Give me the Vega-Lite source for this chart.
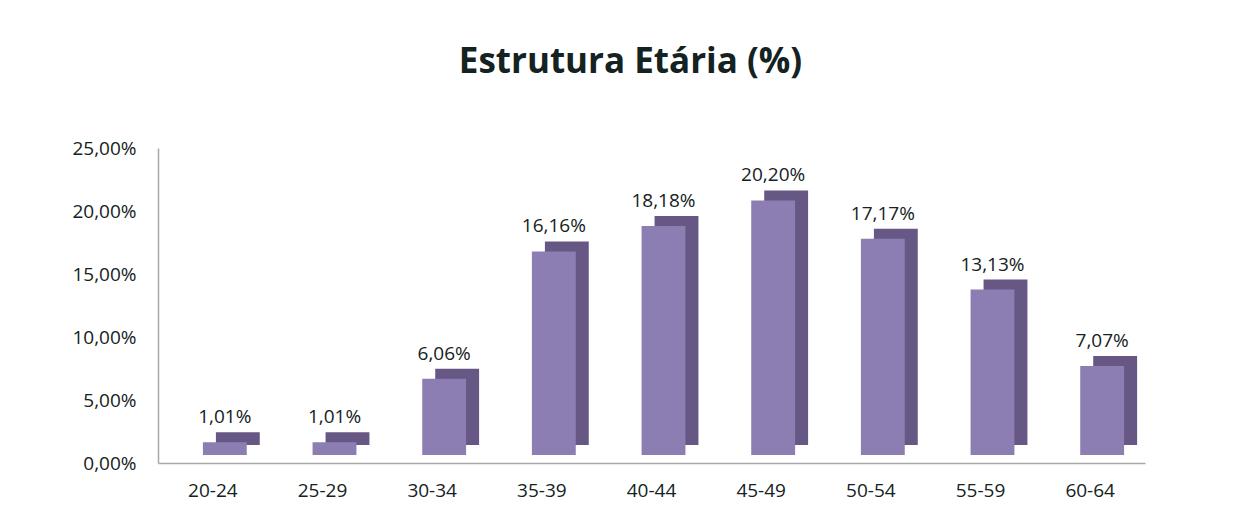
{
  "$schema": "https://vega.github.io/schema/vega-lite/v6.json",
  "autosize": {"type": "none"},
  "width": 987,
  "height": 315,
  "padding": {"left": 158, "top": 148, "right": 98, "bottom": 59},
  "background": "white",
  "title": {
    "text": "Estrutura Etária (%)",
    "font": "Open Sans",
    "fontSize": 35,
    "fontWeight": "bold",
    "color": "#142222",
    "anchor": "middle",
    "dx": -21,
    "baseline": "alphabetic",
    "offset": 31
  },
  "data": {
    "values": [
      {"faixa": "20-24", "pct": 1.01, "label": "1,01%"},
      {"faixa": "25-29", "pct": 1.01, "label": "1,01%"},
      {"faixa": "30-34", "pct": 6.06, "label": "6,06%"},
      {"faixa": "35-39", "pct": 16.16, "label": "16,16%"},
      {"faixa": "40-44", "pct": 18.18, "label": "18,18%"},
      {"faixa": "45-49", "pct": 20.20, "label": "20,20%"},
      {"faixa": "50-54", "pct": 17.17, "label": "17,17%"},
      {"faixa": "55-59", "pct": 13.13, "label": "13,13%"},
      {"faixa": "60-64", "pct": 7.07, "label": "7,07%"}
    ]
  },
  "encoding": {
    "x": {
      "field": "faixa",
      "type": "nominal",
      "sort": null,
      "scale": {"paddingInner": 0, "paddingOuter": 0},
      "axis": {
        "title": null,
        "labelAngle": 0,
        "ticks": false,
        "labelPadding": 18,
        "labelFont": "Open Sans",
        "labelFontSize": 19,
        "labelColor": "#142222",
        "domainColor": "#a8a8a8",
        "domainWidth": 1.5
      }
    },
    "y": {
      "field": "pct",
      "type": "quantitative",
      "scale": {"domain": [0, 25], "nice": false},
      "axis": {
        "title": null,
        "values": [0, 5, 10, 15, 20, 25],
        "grid": false,
        "ticks": false,
        "labelPadding": 22,
        "labelFont": "Open Sans",
        "labelFontSize": 19,
        "labelColor": "#142222",
        "domainColor": "#a8a8a8",
        "domainWidth": 1.5,
        "labelExpr": "replace(format(datum.value, '.2f'), '.', ',') + '%'"
      }
    }
  },
  "layer": [
    {
      "mark": {"type": "bar", "width": {"band": 0.4}, "xOffset": 25, "yOffset": -18, "color": "#665784"}
    },
    {
      "mark": {"type": "bar", "width": {"band": 0.4}, "xOffset": 12, "yOffset": -8, "color": "#8c7eb3"}
    },
    {
      "mark": {"type": "text", "xOffset": 12, "dy": -27, "baseline": "alphabetic", "font": "Open Sans", "fontSize": 19, "color": "#142222"},
      "encoding": {"text": {"field": "label"}}
    }
  ],
  "config": {"view": {"stroke": null}}
}
